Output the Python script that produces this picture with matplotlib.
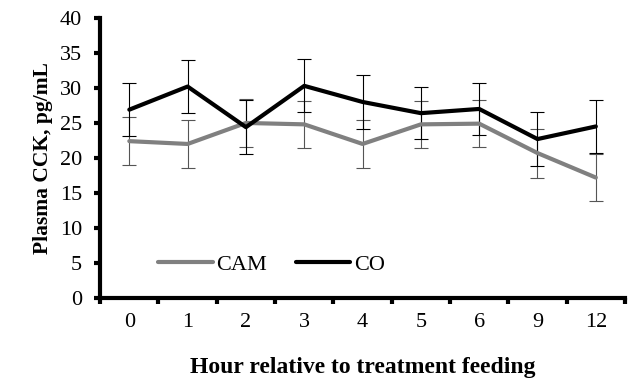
import numpy as np
import matplotlib
matplotlib.use('Agg')
import matplotlib.pyplot as plt

# sampling hours and plasma CCK means / SEM for each treatment
hours = ['0', '1', '2', '3', '4', '5', '6', '9', '12']
cam = [22.4, 22.0, 25.0, 24.8, 22.0, 24.8, 24.9, 20.7, 17.2]
cam_se = [3.4, 3.4, 3.4, 3.4, 3.4, 3.4, 3.4, 3.5, 3.4]
co = [26.9, 30.2, 24.4, 30.3, 28.0, 26.4, 27.0, 22.7, 24.5]
co_se = [3.8, 3.8, 3.9, 3.8, 3.8, 3.7, 3.7, 3.8, 3.8]

plt.rcParams['font.family'] = ['Liberation Serif', 'DejaVu Serif']

fig = plt.figure(figsize=(6.3, 3.82), dpi=100)
ax = fig.add_axes([0.159, 0.22, 0.833, 0.733])

x = np.arange(len(hours))
ax.errorbar(x, cam, yerr=cam_se, fmt='none', ecolor='#555555', elinewidth=0.8,
            capsize=5, capthick=0.8, zorder=2)
ax.errorbar(x, co, yerr=co_se, fmt='none', ecolor='black', elinewidth=0.8,
            capsize=5, capthick=0.8, zorder=2)
ax.plot(x, cam, color='#808080', lw=3, label='CAM', zorder=3, solid_capstyle='round')
ax.plot(x, co, color='black', lw=3, label='CO', zorder=4, solid_capstyle='round')

ax.set_xlim(-0.5, len(hours) - 0.5)
ax.set_ylim(0, 40)
ax.set_yticks(np.arange(0, 41, 5))
ax.set_xticks(x)
ax.set_xticklabels(hours)
ax.set_xticks(np.arange(-0.5, len(hours), 1), minor=True)
ax.tick_params(axis='x', which='major', length=0, pad=11, labelsize=16)
ax.tick_params(axis='x', which='minor', length=4, width=3, direction='out')
ax.tick_params(axis='y', length=4, width=3, direction='out', pad=9, labelsize=16)

for s in ['top', 'right']:
    ax.spines[s].set_visible(False)
for s in ['left', 'bottom']:
    ax.spines[s].set_linewidth(3)

ax.set_ylabel('Plasma CCK, pg/mL', fontsize=15.5, fontweight='bold', labelpad=5)
ax.set_xlabel('Hour relative to treatment feeding', fontsize=17, fontweight='bold', labelpad=18)

ax.legend(loc='center left', bbox_to_anchor=(0.073, 0.118), ncol=2, frameon=False,
          fontsize=16, handlelength=2.45, handletextpad=0.15, columnspacing=1.3)

fig.savefig('out.png', dpi=100)
